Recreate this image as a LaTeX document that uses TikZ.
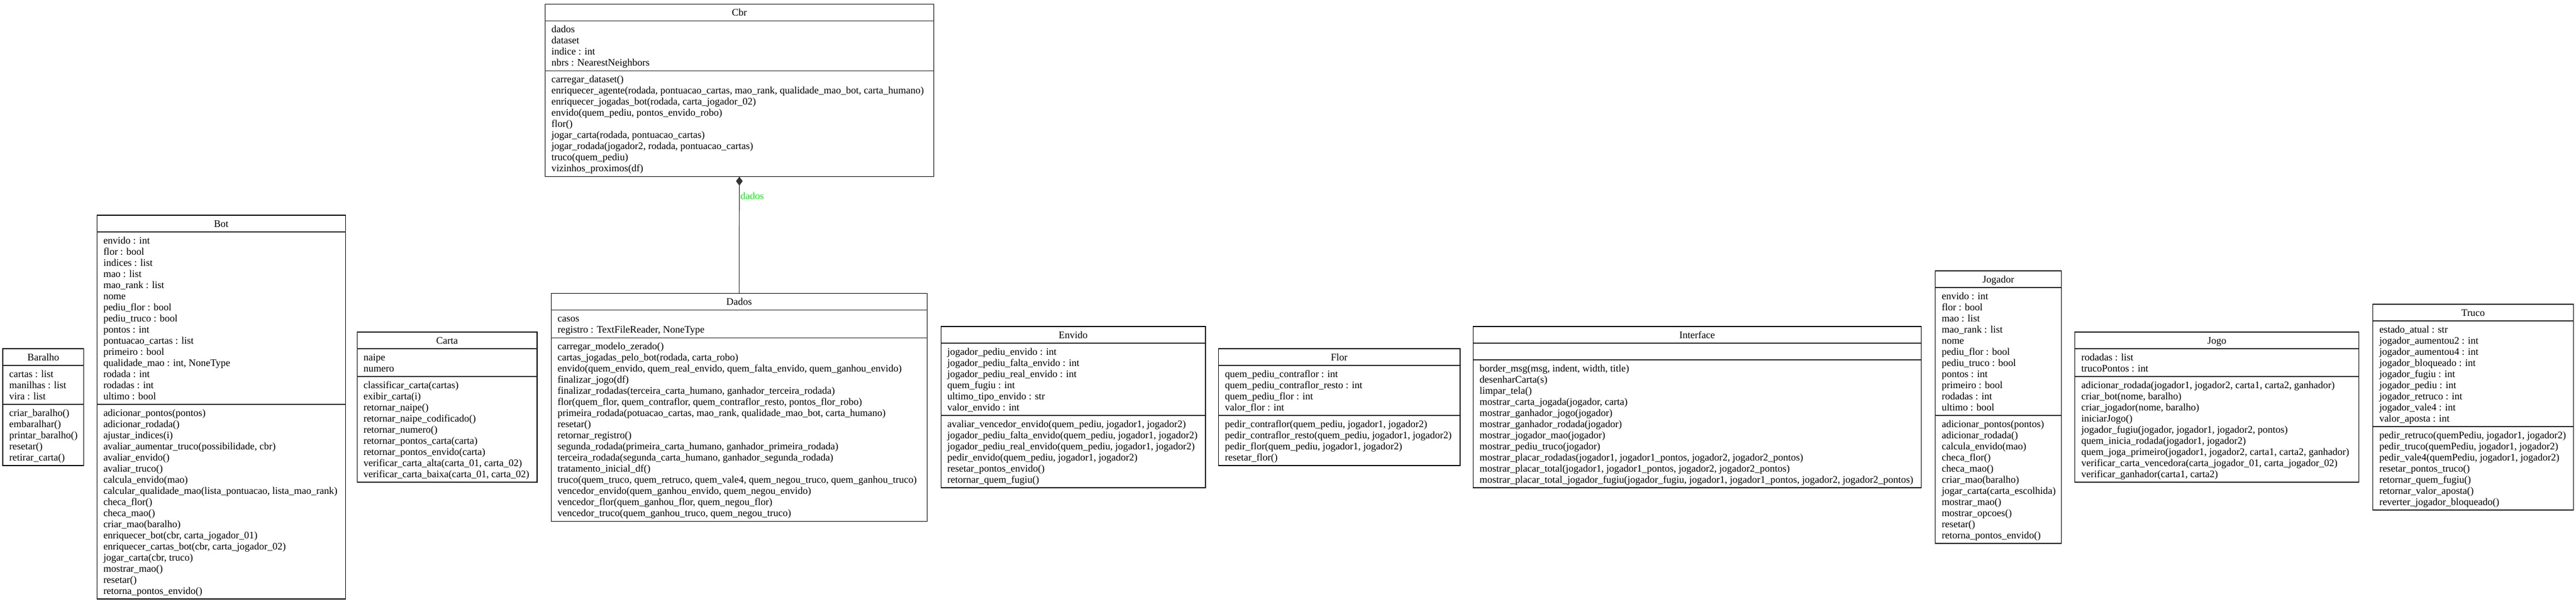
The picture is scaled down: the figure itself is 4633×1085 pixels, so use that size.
\documentclass[tikz,border=0pt]{standalone}
\usepackage{fontspec}
\setmainfont{Liberation Serif}
\usetikzlibrary{arrows.meta}
\definecolor{lblgreen}{RGB}{0,255,0}
\tikzset{
  classbox/.style={draw=black, line width=1.1pt, inner sep=0pt, outer sep=0pt},
  sepline/.style={draw=black!85, line width=1.1pt},
  titletext/.style={inner sep=0pt, anchor=base, font=\fontsize{18}{20}\selectfont},
  membertext/.style={inner sep=0pt, anchor=base west, font=\fontsize{18}{20}\selectfont},
  connline/.style={draw=black!80, line width=1.2pt},
  assoclabel/.style={inner sep=0pt, anchor=base west, text=lblgreen, font=\fontsize{18}{20}\selectfont},
}
% #1 name, #2 left, #3 right, #4 top, #5 title, #6 n attrs, #7 attrs, #8 n methods, #9 methods
\newcommand{\umlbox}[9]{%
  \pgfmathsetmacro\ha{ifthenelse(#6==0,30,#6*20+10)}%
  \pgfmathsetmacro\hm{#8*20+10}%
  \pgfmathsetmacro\yb{#4+30}%
  \pgfmathsetmacro\yc{#4+30+\ha}%
  \pgfmathsetmacro\yd{\yc+\hm}%
  \pgfmathsetmacro\xm{(#2+#3)/2}%
  \pgfmathsetmacro\bw{#3-#2}%
  \pgfmathsetmacro\bh{\yd-#4}%
  \node[classbox, minimum width=\bw pt, minimum height=\bh pt, anchor=north west] (#1) at (#2,#4) {};
  \draw[sepline] (#2,\yb) -- (#3,\yb);
  \draw[sepline] (#2,\yc) -- (#3,\yc);
  \node[titletext] (#1-title) at (\xm,#4+21) {#5};
  \node[membertext] (#1-attrs) at (#2+11.5,\yb+21) {\parbox[t]{1200pt}{\raggedright #7}};
  \node[membertext] (#1-methods) at (#2+11.5,\yc+21) {\parbox[t]{1200pt}{\raggedright #9}};
}
\begin{document}
\begin{tikzpicture}[x=1pt, y=-1pt]
\useasboundingbox (0,0) rectangle (4633,1085);

\umlbox{baralho}{5}{150.7}{627}{Baralho}{3}{%
cartas : list\\manilhas : list\\vira : list}{5}{%
criar\_baralho()\\embaralhar()\\printar\_baralho()\\resetar()\\retirar\_carta()}

\umlbox{bot}{174.3}{621.5}{387}{Bot}{15}{%
envido : int\\flor : bool\\indices : list\\mao : list\\mao\_rank : list\\nome\\pediu\_flor : bool\\pediu\_truco : bool\\pontos : int\\pontuacao\_cartas : list\\primeiro : bool\\qualidade\_mao : int, NoneType\\rodada : int\\rodadas : int\\ultimo : bool}{17}{%
adicionar\_pontos(pontos)\\adicionar\_rodada()\\ajustar\_indices(i)\\avaliar\_aumentar\_truco(possibilidade, cbr)\\avaliar\_envido()\\avaliar\_truco()\\calcula\_envido(mao)\\calcular\_qualidade\_mao(lista\_pontuacao, lista\_mao\_rank)\\checa\_flor()\\checa\_mao()\\criar\_mao(baralho)\\enriquecer\_bot(cbr, carta\_jogador\_01)\\enriquecer\_cartas\_bot(cbr, carta\_jogador\_02)\\jogar\_carta(cbr, truco)\\mostrar\_mao()\\resetar()\\retorna\_pontos\_envido()}

\umlbox{carta}{642.2}{966}{597}{Carta}{2}{%
naipe\\numero}{9}{%
classificar\_carta(cartas)\\exibir\_carta(i)\\retornar\_naipe()\\retornar\_naipe\_codificado()\\retornar\_numero()\\retornar\_pontos\_carta(carta)\\retornar\_pontos\_envido(carta)\\verificar\_carta\_alta(carta\_01, carta\_02)\\verificar\_carta\_baixa(carta\_01, carta\_02)}

\umlbox{cbr}{980.1}{1679.4}{7.7}{Cbr}{4}{%
dados\\dataset\\indice : int\\nbrs : NearestNeighbors}{9}{%
carregar\_dataset()\\enriquecer\_agente(rodada, pontuacao\_cartas, mao\_rank, qualidade\_mao\_bot, carta\_humano)\\enriquecer\_jogadas\_bot(rodada, carta\_jogador\_02)\\envido(quem\_pediu, pontos\_envido\_robo)\\flor()\\jogar\_carta(rodada, pontuacao\_cartas)\\jogar\_rodada(jogador2, rodada, pontuacao\_cartas)\\truco(quem\_pediu)\\vizinhos\_proximos(df)}

\umlbox{dados}{991.2}{1667.5}{527.3}{Dados}{2}{%
casos\\registro : TextFileReader, NoneType}{16}{%
carregar\_modelo\_zerado()\\cartas\_jogadas\_pelo\_bot(rodada, carta\_robo)\\envido(quem\_envido, quem\_real\_envido, quem\_falta\_envido, quem\_ganhou\_envido)\\finalizar\_jogo(df)\\finalizar\_rodadas(terceira\_carta\_humano, ganhador\_terceira\_rodada)\\flor(quem\_flor, quem\_contraflor, quem\_contraflor\_resto, pontos\_flor\_robo)\\primeira\_rodada(potuacao\_cartas, mao\_rank, qualidade\_mao\_bot, carta\_humano)\\resetar()\\retornar\_registro()\\segunda\_rodada(primeira\_carta\_humano, ganhador\_primeira\_rodada)\\terceira\_rodada(segunda\_carta\_humano, ganhador\_segunda\_rodada)\\tratamento\_inicial\_df()\\truco(quem\_truco, quem\_retruco, quem\_vale4, quem\_negou\_truco, quem\_ganhou\_truco)\\vencedor\_envido(quem\_ganhou\_envido, quem\_negou\_envido)\\vencedor\_flor(quem\_ganhou\_flor, quem\_negou\_flor)\\vencedor\_truco(quem\_ganhou\_truco, quem\_negou\_truco)}

\umlbox{envido}{1692.2}{2168}{587}{Envido}{6}{%
jogador\_pediu\_envido : int\\jogador\_pediu\_falta\_envido : int\\jogador\_pediu\_real\_envido : int\\quem\_fugiu : int\\ultimo\_tipo\_envido : str\\valor\_envido : int}{6}{%
avaliar\_vencedor\_envido(quem\_pediu, jogador1, jogador2)\\jogador\_pediu\_falta\_envido(quem\_pediu, jogador1, jogador2)\\jogador\_pediu\_real\_envido(quem\_pediu, jogador1, jogador2)\\pedir\_envido(quem\_pediu, jogador1, jogador2)\\resetar\_pontos\_envido()\\retornar\_quem\_fugiu()}

\umlbox{flor}{2191.3}{2626}{627}{Flor}{4}{%
quem\_pediu\_contraflor : int\\quem\_pediu\_contraflor\_resto : int\\quem\_pediu\_flor : int\\valor\_flor : int}{4}{%
pedir\_contraflor(quem\_pediu, jogador1, jogador2)\\pedir\_contraflor\_resto(quem\_pediu, jogador1, jogador2)\\pedir\_flor(quem\_pediu, jogador1, jogador2)\\resetar\_flor()}

\umlbox{interface}{2649.5}{3455.2}{587}{Interface}{0}{}{11}{%
border\_msg(msg, indent, width, title)\\desenharCarta(s)\\limpar\_tela()\\mostrar\_carta\_jogada(jogador, carta)\\mostrar\_ganhador\_jogo(jogador)\\mostrar\_ganhador\_rodada(jogador)\\mostrar\_jogador\_mao(jogador)\\mostrar\_pediu\_truco(jogador)\\mostrar\_placar\_rodadas(jogador1, jogador1\_pontos, jogador2, jogador2\_pontos)\\mostrar\_placar\_total(jogador1, jogador1\_pontos, jogador2, jogador2\_pontos)\\mostrar\_placar\_total\_jogador\_fugiu(jogador\_fugiu, jogador1, jogador1\_pontos, jogador2, jogador2\_pontos)}

\umlbox{jogador}{3480.7}{3707.3}{487}{Jogador}{11}{%
envido : int\\flor : bool\\mao : list\\mao\_rank : list\\nome\\pediu\_flor : bool\\pediu\_truco : bool\\pontos : int\\primeiro : bool\\rodadas : int\\ultimo : bool}{11}{%
adicionar\_pontos(pontos)\\adicionar\_rodada()\\calcula\_envido(mao)\\checa\_flor()\\checa\_mao()\\criar\_mao(baralho)\\jogar\_carta(carta\_escolhida)\\mostrar\_mao()\\mostrar\_opcoes()\\resetar()\\retorna\_pontos\_envido()}

\umlbox{jogo}{3731.6}{4242.4}{597}{Jogo}{2}{%
rodadas : list\\trucoPontos : int}{9}{%
adicionar\_rodada(jogador1, jogador2, carta1, carta2, ganhador)\\criar\_bot(nome, baralho)\\criar\_jogador(nome, baralho)\\iniciarJogo()\\jogador\_fugiu(jogador, jogador1, jogador2, pontos)\\quem\_inicia\_rodada(jogador1, jogador2)\\quem\_joga\_primeiro(jogador1, jogador2, carta1, carta2, ganhador)\\verificar\_carta\_vencedora(carta\_jogador\_01, carta\_jogador\_02)\\verificar\_ganhador(carta1, carta2)}

\umlbox{truco}{4267.5}{4628.5}{547}{Truco}{9}{%
estado\_atual : str\\jogador\_aumentou2 : int\\jogador\_aumentou4 : int\\jogador\_bloqueado : int\\jogador\_fugiu : int\\jogador\_pediu : int\\jogador\_retruco : int\\jogador\_vale4 : int\\valor\_aposta : int}{7}{%
pedir\_retruco(quemPediu, jogador1, jogador2)\\pedir\_truco(quemPediu, jogador1, jogador2)\\pedir\_vale4(quemPediu, jogador1, jogador2)\\resetar\_pontos\_truco()\\retornar\_quem\_fugiu()\\retornar\_valor\_aposta()\\reverter\_jogador\_bloqueado()}

\draw[connline, {Diamond[length=16pt, width=12pt]}-] (cbr.south) -- (dados.north)
  node[assoclabel, pos=0.195, xshift=1.5pt] (dadoslbl) {dados};
\end{tikzpicture}
\end{document}
